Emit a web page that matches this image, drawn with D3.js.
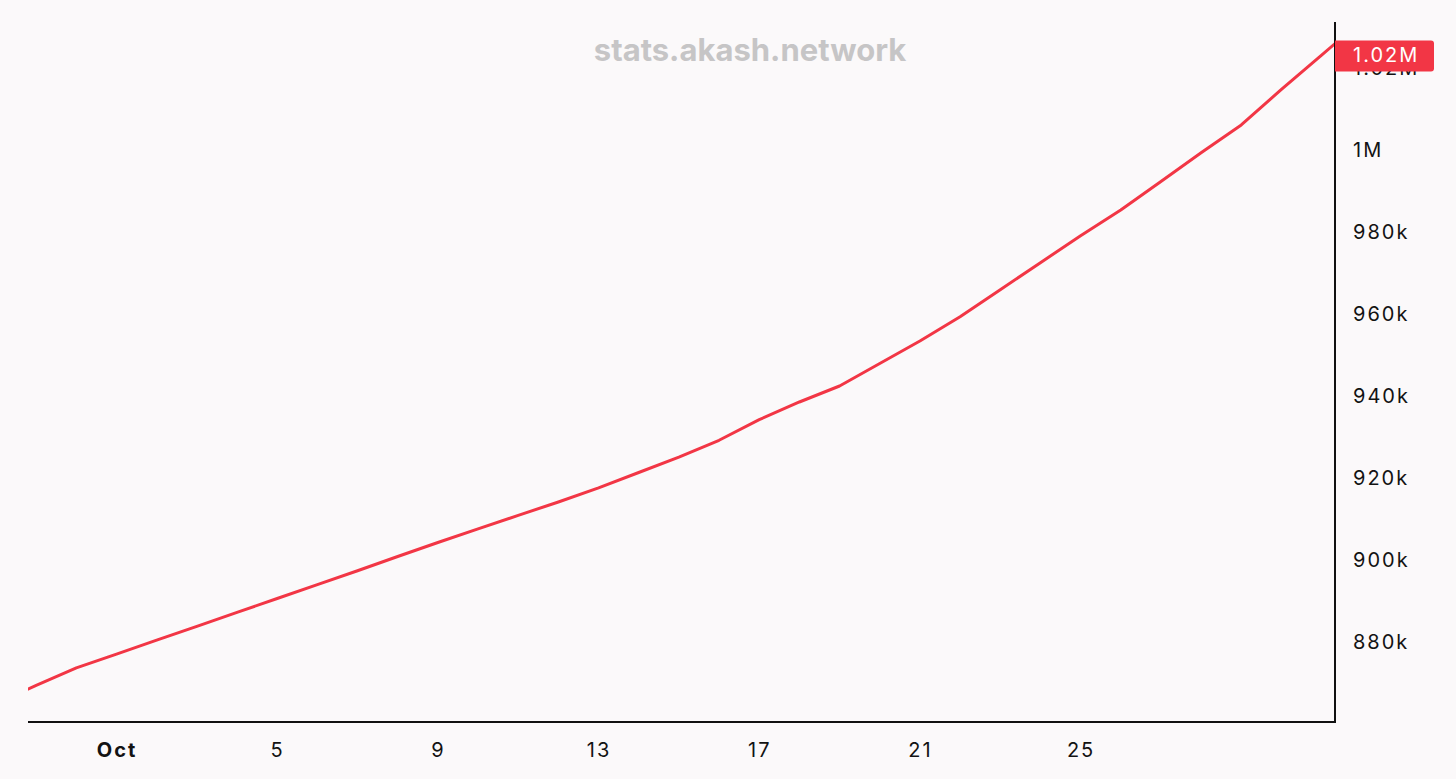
<!DOCTYPE html>
<html>
<head>
<meta charset="utf-8">
<script src="https://cdn.jsdelivr.net/npm/d3@7"></script>
<style>
  html, body { margin: 0; padding: 0; background: #fbf9fa; }
  svg { display: block; }
</style>
</head>
<body>
<svg id="chart" width="1456" height="779"></svg>
<script>
// ---- data ----
const dates = [
  "2023-09-28","2023-09-29","2023-09-30","2023-10-01","2023-10-02","2023-10-03","2023-10-04",
  "2023-10-05","2023-10-06","2023-10-07","2023-10-08","2023-10-09","2023-10-10","2023-10-11",
  "2023-10-12","2023-10-13","2023-10-14","2023-10-15","2023-10-16","2023-10-17","2023-10-18",
  "2023-10-19","2023-10-20","2023-10-21","2023-10-22","2023-10-23","2023-10-24","2023-10-25",
  "2023-10-26","2023-10-27","2023-10-28","2023-10-29","2023-10-30","2023-10-31","2023-11-01"
];
const values = [
  865100, 869400, 873700, 877050, 880440, 883830, 887220,
  890610, 894000, 897390, 900855, 904270, 907610, 910880,
  914150, 917610, 921340, 925100, 929200, 934240, 938540,
  942440, 947930, 953415, 959340, 965930, 972510, 979100,
  985366, 992340, 999340, 1006100, 1014760, 1023150, 1031540
];
const yTicks = [880000, 900000, 920000, 940000, 960000, 980000, 1000000, 1020000];
const xTickDates = ["2023-10-01","2023-10-05","2023-10-09","2023-10-13","2023-10-17","2023-10-21","2023-10-25"];
const lastLabelIndex = 33; // value shown in the price label
const watermark = "stats.akash.network";

// ---- layout ----
const svg = d3.select("#chart");
const mLeft = 28, mRight = 1335, mTop = 22, mBottom = 722;
const parse = d3.timeParse("%Y-%m-%d");
const data = dates.map((d, i) => ({ date: parse(d), value: values[i] }));

const x = d3.scaleTime()
  .domain([new Date(2023, 8, 28, 19, 7), new Date(2023, 9, 31, 8, 0)])
  .range([mLeft, mRight]);
const y = d3.scaleLinear()
  .domain([860490, 1031220])
  .range([mBottom, mTop]);

const RED = "#f23645";
const FONT = "Inter, 'Noto Sans', sans-serif";

// watermark
svg.append("text")
  .attr("x", 750).attr("y", 53)
  .attr("text-anchor", "middle").attr("dominant-baseline", "middle")
  .attr("font-family", FONT)
  .attr("font-weight", 700).attr("font-size", 31)
  .attr("fill", "#c6c5c6")
  .text(watermark);

// clip
svg.append("clipPath").attr("id", "plot")
  .append("rect").attr("x", mLeft).attr("y", mTop).attr("width", mRight - mLeft).attr("height", mBottom - mTop);

// line
svg.append("path")
  .datum(data)
  .attr("clip-path", "url(#plot)")
  .attr("fill", "none")
  .attr("stroke", RED)
  .attr("stroke-width", 3)
  .attr("stroke-linejoin", "round")
  .attr("d", d3.line().x(d => x(d.date)).y(d => y(d.value)));

// axes lines
svg.append("line").attr("x1", mLeft).attr("x2", mRight + 1).attr("y1", mBottom).attr("y2", mBottom)
  .attr("stroke", "#111").attr("stroke-width", 2);
svg.append("line").attr("x1", mRight).attr("x2", mRight).attr("y1", mTop).attr("y2", mBottom)
  .attr("stroke", "#111").attr("stroke-width", 2);

// y axis labels
const fmtY = v => v >= 1000000 ? (d3.format(".3~r")(v / 1e6) + "M") : (Math.round(v / 1000) + "k");
const yAxis = d3.axisRight(y).tickValues(yTicks).tickSize(0).tickPadding(18).tickFormat(fmtY);
const gy = svg.append("g").attr("transform", `translate(${mRight},0)`).call(yAxis);
gy.select(".domain").remove();
gy.selectAll("text")
  .attr("font-family", FONT)
  .attr("font-size", 20).attr("letter-spacing", 2)
  .attr("fill", "#131313");

// x axis labels
const xAxis = d3.axisBottom(x).tickValues(xTickDates.map(parse)).tickSize(0).tickPadding(21)
  .tickFormat(d => d.getDate() === 1 ? d3.timeFormat("%b")(d) : d.getDate());
const gx = svg.append("g").attr("transform", `translate(0,${mBottom})`).call(xAxis);
gx.select(".domain").remove();
gx.selectAll("text")
  .attr("font-family", FONT)
  .attr("font-size", 20).attr("letter-spacing", 2)
  .attr("fill", "#131313")
  .attr("font-weight", d => d.getDate() === 1 ? 700 : 400);

// last value label
const lv = values[lastLabelIndex];
const ly = y(lv) + 1;
const lg = svg.append("g");
lg.append("path")
  .attr("d", `M${mRight} ${ly - 15.5} H${1431} a3 3 0 0 1 3 3 V${ly + 12.5} a3 3 0 0 1 -3 3 H${mRight} Z`)
  .attr("fill", RED);
lg.append("text")
  .attr("x", mRight + 18).attr("y", ly)
  .attr("dominant-baseline", "middle")
  .attr("font-family", FONT)
  .attr("font-size", 20).attr("letter-spacing", 2)
  .attr("fill", "#ffffff")
  .text(fmtY(lv));
</script>
</body>
</html>
